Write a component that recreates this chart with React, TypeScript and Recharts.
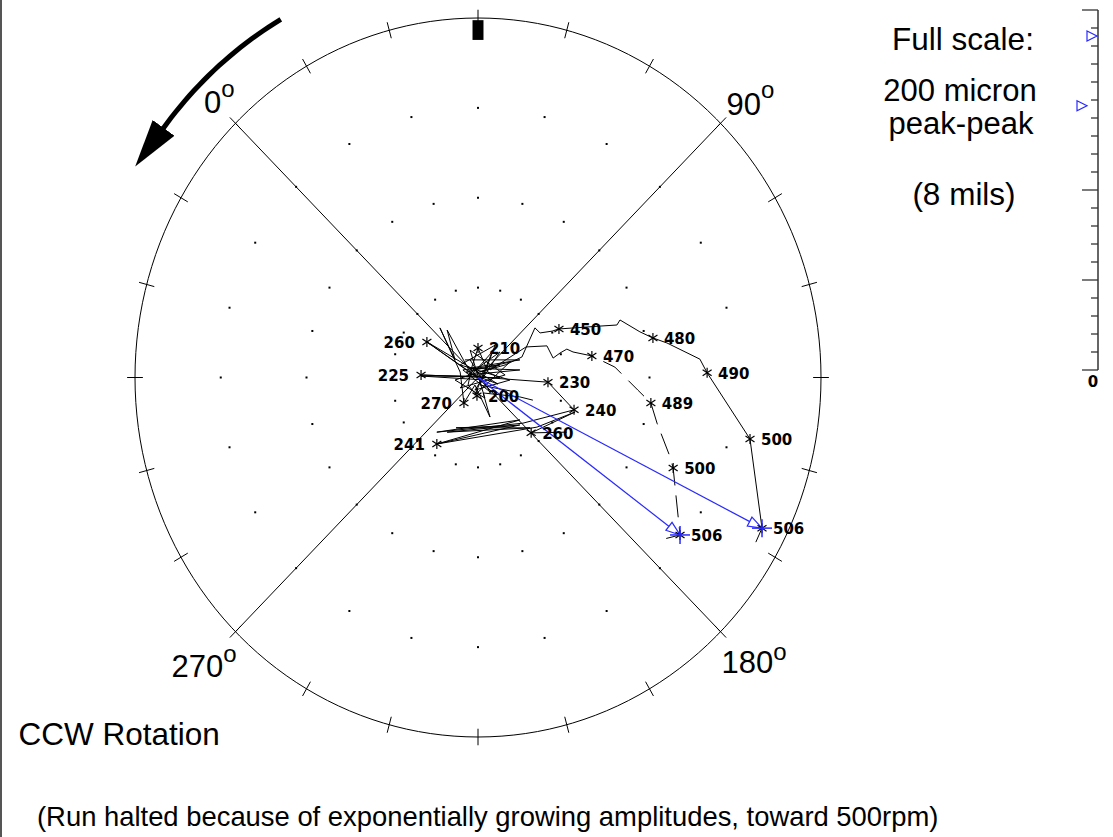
import React from 'react';
import { ScatterChart, Scatter, XAxis, YAxis, ReferenceLine, ReferenceArea } from 'recharts';

type Pt = [number, number];

// Vibration vector traces, micron components (x: right, y: up); full scale radius = 100
const probeAPath: Pt[] = [
  [0.6, 1.5], [7.9, 3.5], [12.8, 5.7], [16.6, 13.8], [18.1, 12.4], [21.6, 12.9], [23.6, 13.5],
  [35.6, 14.3], [40.5, 14.6], [41.4, 16.0], [47.2, 12.7], [51.0, 11.0], [55.1, 9.6], [64.7, 5.1],
  [66.8, 1.3], [79.3, -17.1], [82.8, -41.9], [81.0, -45.8],
];
const probeBApproach: Pt[] = [
  [3.5, 2.1], [14.0, 8.5], [20.1, 8.8], [21.9, 5.4], [23.9, 6.8], [25.9, 7.9], [27.7, 7.1],
];
const probeBPath: Pt[] = [
  [27.7, 7.1], [33.2, 6.0], [39.9, 2.9], [46.6, -3.5], [50.4, -7.1], [52.2, -12.7], [56.0, -22.1],
  [56.9, -25.2], [57.7, -32.7], [58.9, -43.8], [53.1, -45.2],
];
const lowSpeedA: Pt[] = [
  [-0.3, -5.1], [-2.9, -2.1], [-1.7, 3.2], [0, 8.2], [2.9, 1.5], [6.4, -0.1], [-16.6, 0.7],
  [0.6, 0.1], [20.4, -1.3], [28.0, -9.0], [13.1, -12.7], [-12.0, -15.2], [12.2, -11.8],
  [-12.0, -18.5], [17.2, -13.8], [28.3, -9.6], [15.5, -15.4], [25.9, -15.2],
];
const lowSpeedB: Pt[] = [
  [-14.9, 9.9], [-2.3, 1.5], [-9.0, 13.2], [-6.7, 4.9], [-11.1, 13.8], [-5.2, 1.5], [-4.1, -7.1],
  [-0.9, -2.1], [3.5, -11.0], [1.5, -4.3], [12.2, -5.4], [16.0, -6.3],
];
const lowSpeedC: Pt[] = [
  [-3.8, 4.9], [12.2, 4.9], [-2.3, 2.6], [12.2, 2.1], [-2.9, 0.7], [6.4, 7.1], [-0.9, -3.5],
  [9.3, -0.7], [-5.2, 3.5], [5.0, 9.0], [0.6, -2.1], [10.8, -4.0],
];
const lowSpeedD: Pt[] = [
  [-2.3, 4.9], [3.5, -4.0], [-4.4, 2.1], [6.4, 3.5], [-6.7, -0.7], [2.0, -5.7], [-2.3, 7.6],
  [7.9, 0.7], [-5.2, -2.9], [4.1, 7.1], [-0.9, -4.9], [9.3, 4.3], [-3.5, 1.5], [5.8, -1.8],
  [-14.9, 9.9], [0.6, -0.6], [-16.6, 0.4], [2.0, 0.4],
];
const lowSpeedE: Pt[] = [
  [-12.0, -18.5], [12.2, -13.2], [-9.0, -15.2], [15.2, -14.0], [-6.4, -14.0], [10.5, -13.4],
];

// Labelled speed points (rpm)
const markerRpm = ['450', '480', '490', '500', '506', '470', '489', '500', '506', '230', '240', '260', '260', '225', '270', '241', '210', '200'];
const markerX = [23.6, 51.0, 66.8, 79.3, 82.8, 33.2, 50.4, 56.9, 58.9, 20.4, 28.0, 15.5, -14.9, -16.6, -4.1, -12.0, 0, -0.3];
const markerY = [13.5, 11.0, 1.3, -17.1, -41.9, 6.0, -7.1, -25.2, -43.8, -1.3, -9.0, -15.4, 9.9, 0.7, -7.1, -18.5, 8.2, -5.1];
const FINAL_RPM = '506';

const FULL_SCALE = 100;
const gridRings = [25, 50, 75];
const ANGLE_STEP = 15;
const scaleTicks = [0, 5, 10, 15, 20, 25, 30, 35, 40, 45, 50, 55, 60, 65, 70, 75, 80, 85, 90, 95, 100];
const scaleMajor = [0, 25, 50, 100];
const probeLanes = [54, 44];

const BLUE = '#2828ff';

const toPts = (arr: Pt[]) => arr.map(([x, y]) => ({ x, y }));
const polar = (r: number, deg: number) => ({
  x: r * Math.cos((deg * Math.PI) / 180),
  y: r * Math.sin((deg * Math.PI) / 180),
});

const angles = Array.from({ length: 360 / ANGLE_STEP }, (_, i) => i * ANGLE_STEP);
const gridDots = gridRings.flatMap((r) => angles.map((a) => polar(r, a)));
const circlePts = Array.from({ length: 181 }, (_, i) => polar(FULL_SCALE, i * 2));
const rotArc = Array.from({ length: 24 }, (_, i) => polar(115, 120 + i));

const markers = markerRpm.map((rpm, i) => ({ x: markerX[i], y: markerY[i], rpm }));
const finals = markers.filter((m) => m.rpm === FINAL_RPM);
const vectors = finals.map((m) => [{ x: 0, y: 0 }, { x: m.x, y: m.y }]);
const scaleMarks = finals.map((m, i) => ({ x: probeLanes[i], y: Math.hypot(m.x, m.y) }));

const Hidden = () => <g />;
const GridDot = (p: any) => <rect x={p.cx - 1} y={p.cy - 1} width={2} height={2} fill="#000" />;
const Star = (p: any) => {
  const { cx, cy, payload } = p;
  const left = payload.x < -2;
  return (
    <g>
      <g stroke="#000" strokeWidth={1.2}>
        <line x1={cx} y1={cy - 5} x2={cx} y2={cy + 5} />
        <line x1={cx - 4.5} y1={cy - 3} x2={cx + 4.5} y2={cy + 3} />
        <line x1={cx - 4.5} y1={cy + 3} x2={cx + 4.5} y2={cy - 3} />
      </g>
      <text
        x={left ? cx - 12 : cx + 11}
        y={cy + 6}
        textAnchor={left ? 'end' : 'start'}
        fontFamily="DejaVu Sans"
        fontWeight="bold"
        fontSize={15}
        fill="#000"
      >
        {payload.rpm}
      </text>
    </g>
  );
};
const BlueCross = (p: any) => (
  <g stroke={BLUE} strokeWidth={1.5}>
    <line x1={p.cx - 10} y1={p.cy} x2={p.cx + 10} y2={p.cy} />
    <line x1={p.cx} y1={p.cy - 9} x2={p.cx} y2={p.cy + 9} />
  </g>
);
const Tri = (p: any) => (
  <path d={`M${p.cx - 5},${p.cy - 5} L${p.cx + 5},${p.cy} L${p.cx - 5},${p.cy + 5} Z`} fill="#fff" stroke={BLUE} strokeWidth={1.2} />
);
const ZeroLabel = (p: any) => (
  <text x={p.cx - 5} y={p.cy + 17} textAnchor="middle" fontFamily="DejaVu Sans" fontWeight="bold" fontSize={15} fill="#000">
    0
  </text>
);

const txt = { fontFamily: 'Liberation Sans, Arial, sans-serif', fill: '#000' } as const;

export default function App() {
  const d45 = polar(FULL_SCALE, 45);
  return (
    <div style={{ position: 'absolute', left: 0, top: 0, width: 1113, height: 837, background: '#fff' }}>
      <div style={{ position: 'absolute', left: 0, top: 0 }}>
        <ScatterChart width={1113} height={837} margin={{ top: 18, right: 292, bottom: 100, left: 135 }}>
          <XAxis type="number" dataKey="x" domain={[-100, 100]} hide />
          <YAxis type="number" dataKey="y" domain={[-100, 100]} hide />
          <Scatter data={gridDots} shape={GridDot} isAnimationActive={false} />
          <Scatter data={circlePts} shape={Hidden} line={{ stroke: '#000', strokeWidth: 1 }} isAnimationActive={false} />
          {angles.map((a) => {
            const p1 = polar(FULL_SCALE - 2.3, a);
            const p2 = polar(FULL_SCALE + 2.3, a);
            return <ReferenceLine key={`t${a}`} segment={[p1, p2]} stroke="#000" strokeWidth={1} ifOverflow="visible" />;
          })}
          <ReferenceLine segment={[{ x: -d45.x, y: d45.y }, { x: d45.x, y: -d45.y }]} stroke="#000" strokeWidth={1} ifOverflow="visible" />
          <ReferenceLine segment={[{ x: -d45.x, y: -d45.y }, { x: d45.x, y: d45.y }]} stroke="#000" strokeWidth={1} ifOverflow="visible" />
          <ReferenceArea x1={-1.6} x2={1.6} y1={93.9} y2={99.4} fill="#000" fillOpacity={1} stroke="none" ifOverflow="visible" />
          <Scatter
            data={rotArc}
            shape={Hidden}
            line={{ stroke: '#000', strokeWidth: 5, markerEnd: 'url(#rotHead)' } as any}
            isAnimationActive={false}
          />
          {[lowSpeedA, lowSpeedB, lowSpeedC, lowSpeedD, lowSpeedE].map((tr, i) => (
            <Scatter key={`low${i}`} data={toPts(tr)} shape={Hidden} line={{ stroke: '#000', strokeWidth: 1 }} isAnimationActive={false} />
          ))}
          <Scatter data={toPts(probeAPath)} shape={Hidden} line={{ stroke: '#000', strokeWidth: 1 }} isAnimationActive={false} />
          <Scatter data={toPts(probeBApproach)} shape={Hidden} line={{ stroke: '#000', strokeWidth: 1 }} isAnimationActive={false} />
          <Scatter
            data={toPts(probeBPath)}
            shape={Hidden}
            line={{ stroke: '#000', strokeWidth: 1, strokeDasharray: '22 10' }}
            isAnimationActive={false}
          />
          {vectors.map((v, i) => (
            <Scatter
              key={`vec${i}`}
              data={v}
              shape={Hidden}
              line={{ stroke: BLUE, strokeWidth: 1.2, markerEnd: 'url(#vecHead)' } as any}
              isAnimationActive={false}
            />
          ))}
          <Scatter data={markers} shape={Star} isAnimationActive={false} />
          <Scatter data={finals} shape={BlueCross} isAnimationActive={false} />
        </ScatterChart>
      </div>

      <div style={{ position: 'absolute', left: 1038, top: 0 }}>
        <ScatterChart width={75} height={400} margin={{ top: 10, right: 15, bottom: 30, left: 0 }}>
          <XAxis type="number" dataKey="x" domain={[0, 60]} hide />
          <YAxis type="number" dataKey="y" domain={[0, 100]} hide />
          <ReferenceLine segment={[{ x: 60, y: 0 }, { x: 60, y: 100 }]} stroke="#333" strokeWidth={1.5} ifOverflow="visible" />
          {scaleTicks.map((v) => (
            <ReferenceLine
              key={`s${v}`}
              segment={[{ x: scaleMajor.includes(v) ? 44 : 53, y: v }, { x: 60, y: v }]}
              stroke="#333"
              strokeWidth={1.3}
              ifOverflow="visible"
            />
          ))}
          <Scatter data={[{ x: 60, y: 0 }]} shape={ZeroLabel} isAnimationActive={false} />
          <Scatter data={scaleMarks} shape={Tri} isAnimationActive={false} />
        </ScatterChart>
      </div>

      <svg width={1113} height={837} style={{ position: 'absolute', left: 0, top: 0, pointerEvents: 'none' }}>
        <defs>
          <marker id="rotHead" markerUnits="userSpaceOnUse" markerWidth={50} markerHeight={30} viewBox="0 0 50 30" refX={1} refY={15} orient="auto">
            <path d="M0,1.5 L48,15 L0,28.5 Z" fill="#000" />
          </marker>
          <marker id="vecHead" markerUnits="userSpaceOnUse" markerWidth={18} markerHeight={14} viewBox="0 0 18 14" refX={16} refY={7} orient="auto">
            <path d="M2,2 L16,7 L2,12 Z" fill="#fff" stroke={BLUE} strokeWidth={1.2} />
          </marker>
        </defs>
        <line x1={1} y1={0} x2={1} y2={837} stroke="#555" strokeWidth={2} />
        <text x={204} y={113} fontSize={31} {...txt}>
          0<tspan fontSize={24} dy={-16}>o</tspan>
        </text>
        <text x={726.5} y={115} fontSize={31} {...txt}>
          90<tspan fontSize={24} dy={-17}>o</tspan>
        </text>
        <text x={721.5} y={673} fontSize={31} {...txt}>
          180<tspan fontSize={24} dy={-13}>o</tspan>
        </text>
        <text x={171.5} y={677} fontSize={31} {...txt}>
          270<tspan fontSize={24} dy={-15}>o</tspan>
        </text>
        <text x={963} y={50} fontSize={31.5} textAnchor="middle" {...txt}>Full scale:</text>
        <text x={960} y={101} fontSize={31} textAnchor="middle" {...txt}>200 micron</text>
        <text x={961} y={134} fontSize={31} textAnchor="middle" {...txt}>peak-peak</text>
        <text x={964} y={205} fontSize={31.5} textAnchor="middle" {...txt}>(8 mils)</text>
        <text x={18.5} y={745} fontSize={31.5} {...txt}>CCW Rotation</text>
        <text x={37} y={826} fontSize={27.4} {...txt}>
          (Run halted because of exponentially growing amplitudes, toward 500rpm)
        </text>
      </svg>
    </div>
  );
}
